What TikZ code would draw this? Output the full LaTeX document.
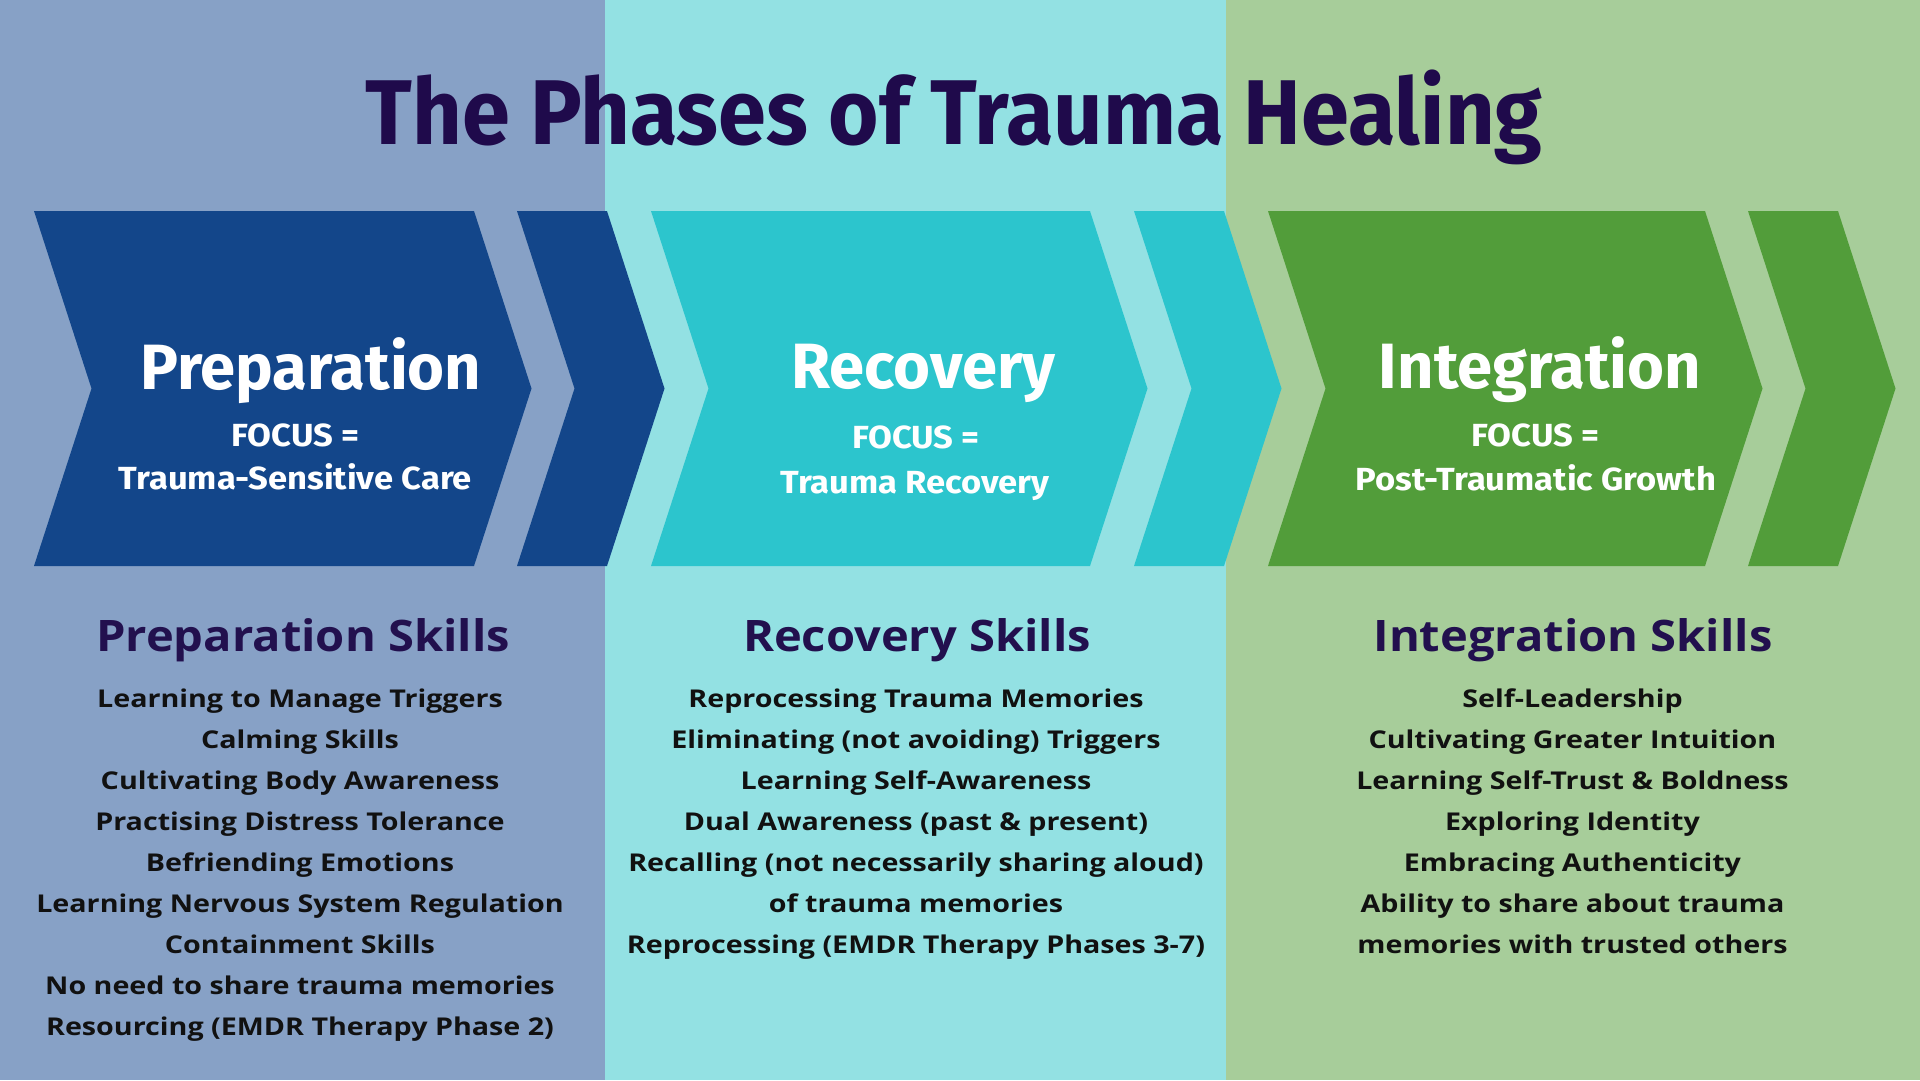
\documentclass[tikz,border=0pt]{standalone}
\usepackage{fontspec}
\setmainfont[FakeStretch=1.17]{Open Sans}
\newfontfamily\titlef[FakeStretch=0.94]{Fira Sans}
\newfontfamily\chevf[FakeStretch=0.99]{Fira Sans}
\newfontfamily\focusf[FakeStretch=1.08]{Fira Sans}
\newfontfamily\headf[FakeStretch=1.085]{Open Sans}
\definecolor{bandA}{HTML}{87A1C6}
\definecolor{bandB}{HTML}{93E1E3}
\definecolor{bandC}{HTML}{A7CD9A}
\definecolor{chevA}{HTML}{13468A}
\definecolor{chevB}{HTML}{2CC5CD}
\definecolor{chevC}{HTML}{529D3A}
\definecolor{titlec}{HTML}{1F0A4B}
\definecolor{headc}{HTML}{22104E}
\definecolor{listc}{HTML}{111111}
\tikzset{
  titletext/.style={anchor=base,inner sep=0pt,text=titlec,font=\titlef\bfseries\fontsize{92}{100}\selectfont},
  phasetext/.style={anchor=base,inner sep=0pt,text=white,font=\chevf\bfseries\fontsize{64}{70}\selectfont},
  focustext/.style={anchor=base,inner sep=0pt,text=white,font=\focusf\bfseries\fontsize{32}{36}\selectfont},
  headtext/.style={anchor=base,inner sep=0pt,text=headc,font=\headf\bfseries\fontsize{43.4}{50}\selectfont},
  listtext/.style={anchor=base,inner sep=0pt,text=listc,font=\bfseries\fontsize{24.5}{30}\selectfont}
}
\newcommand{\chevron}[4]{% xl, xr, colour, depth
  \fill[#3] (#1,211) -- (#2,211) -- ({#2+#4},388.5) -- (#2,566) -- (#1,566) -- ({#1+#4},388.5) -- cycle;}
\begin{document}
\begin{tikzpicture}[x=1pt,y=-1pt]
\useasboundingbox (0,0) rectangle (1920,1080);
\fill[bandA] (0,0) rectangle (605,1080);
\fill[bandB] (605,0) rectangle (1226,1080);
\fill[bandC] (1226,0) rectangle (1920,1080);
% chevrons
\chevron{34}{474}{chevA}{57.5}
\chevron{517}{607}{chevA}{57.5}
\chevron{651}{1090}{chevB}{57.5}
\chevron{1134}{1224}{chevB}{57.5}
\chevron{1268}{1705}{chevC}{57.5}
\chevron{1748}{1838}{chevC}{57.5}
% title
\node[titletext] (title) at (954,144.5) {The Phases of Trauma Healing};
% phase labels
\node[phasetext] (p1) at (311,389) {Preparation};
\node[focustext] (f1) at (295.5,446) {FOCUS =};
\node[focustext] (g1) at (295.5,489) {Trauma-Sensitive Care};
\node[phasetext] (p2) at (923.5,388) {Recovery};
\node[focustext] (f2) at (916,448) {FOCUS =};
\node[focustext] (g2) at (915,493) {Trauma Recovery};
\node[phasetext] (p3) at (1540,388) {Integration};
\node[focustext] (f3) at (1535.5,446) {FOCUS =};
\node[focustext] (g3) at (1536,490) {Post-Traumatic Growth};
% headings
\node[headtext] (h1) at (303,651.7) {Preparation Skills};
\node[headtext] (h2) at (917,651.7) {Recovery Skills};
\node[headtext] (h3) at (1573,651.7) {Integration Skills};
% lists
\foreach \t [count=\i] in {{Learning to Manage Triggers},{Calming Skills},{Cultivating Body Awareness},{Practising Distress Tolerance},{Befriending Emotions},{Learning Nervous System Regulation},{Containment Skills},{No need to share trauma memories},{Resourcing (EMDR Therapy Phase 2)}}
  \node[listtext] (a\i) at (300,{707+41.1*(\i-1)}) {\t};
\foreach \t [count=\i] in {{Reprocessing Trauma Memories},{Eliminating (not avoiding) Triggers},{Learning Self-Awareness},{Dual Awareness (past \& present)},{Recalling (not necessarily sharing aloud)},{of trauma memories},{Reprocessing (EMDR Therapy Phases 3-7)}}
  \node[listtext] (b\i) at (916,{707+41.1*(\i-1)}) {\t};
\foreach \t [count=\i] in {{Self-Leadership},{Cultivating Greater Intuition},{Learning Self-Trust \& Boldness},{Exploring Identity},{Embracing Authenticity},{Ability to share about trauma},{memories with trusted others}}
  \node[listtext] (c\i) at (1572.5,{707+41.1*(\i-1)}) {\t};
\end{tikzpicture}
\end{document}
